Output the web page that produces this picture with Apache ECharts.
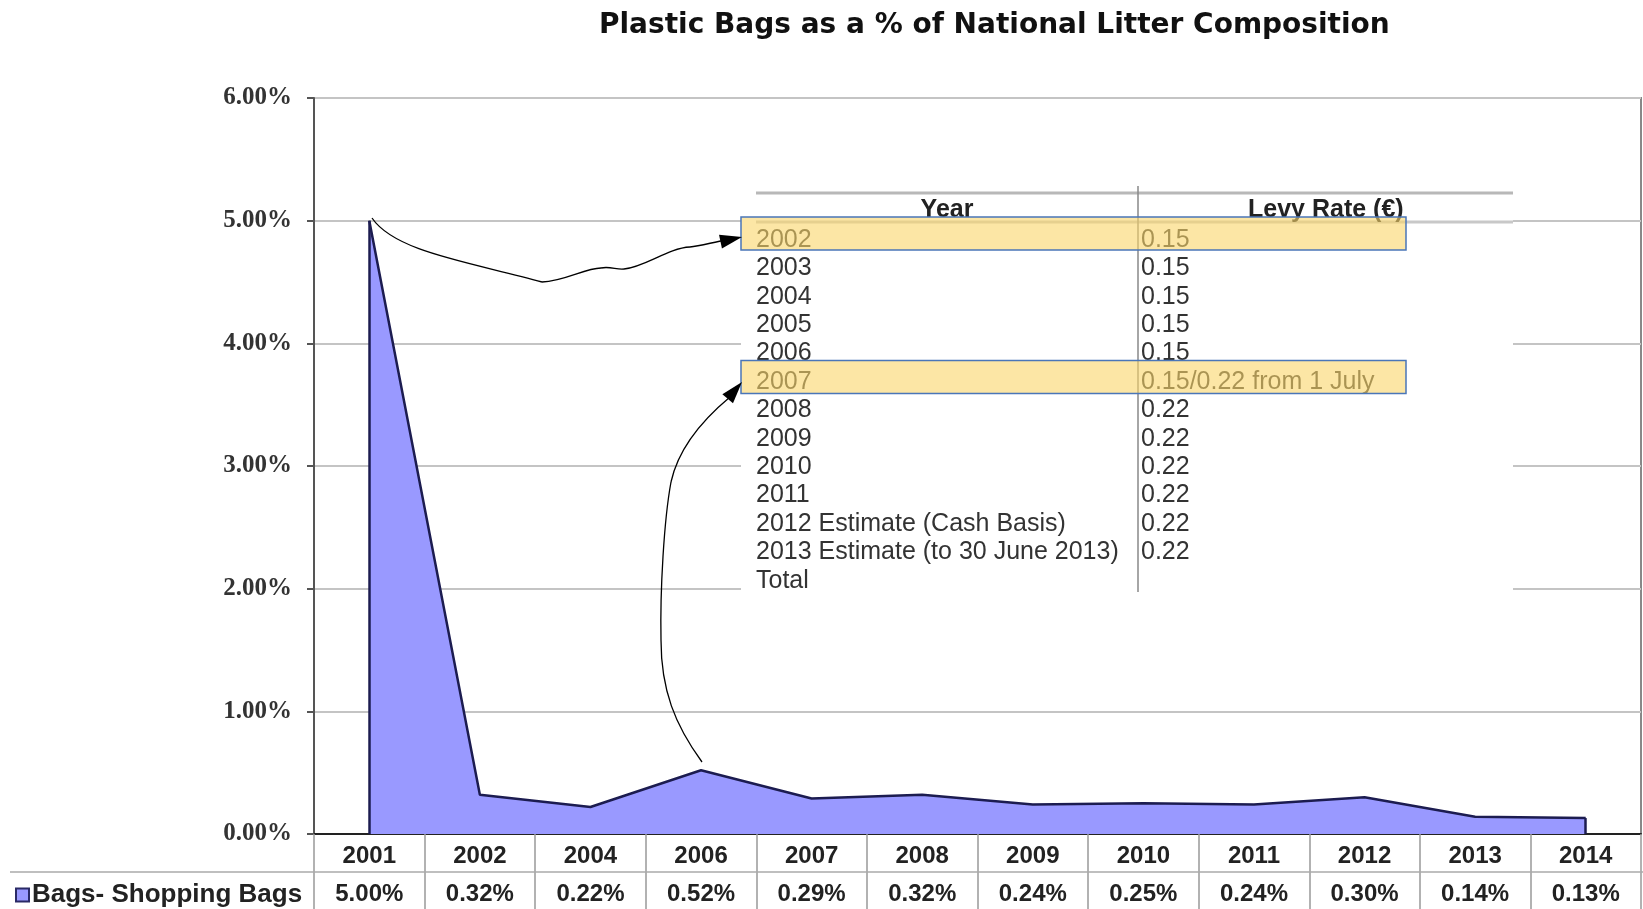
<!DOCTYPE html>
<html>
<head>
<meta charset="utf-8">
<script src="https://cdn.jsdelivr.net/npm/echarts@6/dist/echarts.min.js"></script>
<style>
html,body{margin:0;padding:0;background:#fff;}
#main{width:1643px;height:909px;}
</style>
</head>
<body>
<div id="main"></div>
<script>
// ---- data ----
var categories = ['2001','2002','2004','2006','2007','2008','2009','2010','2011','2012','2013','2014'];
var shoppingBags = [5.00, 0.32, 0.22, 0.52, 0.29, 0.32, 0.24, 0.25, 0.24, 0.30, 0.14, 0.13];
var seriesName = 'Bags- Shopping Bags';
var yTicks = [0, 1, 2, 3, 4, 5, 6];
var levyYears = ['2002','2003','2004','2005','2006','2007','2008','2009','2010','2011','2012 Estimate (Cash Basis)','2013 Estimate (to 30 June 2013)','Total'];
var levyRates = ['0.15','0.15','0.15','0.15','0.15','0.15/0.22 from 1 July','0.22','0.22','0.22','0.22','0.22','0.22',''];
var highlightRows = [0, 5];

var chart = echarts.init(document.getElementById('main'));

var sans = 'Liberation Sans, Arial, sans-serif';

function arrowHead(tip, from, len, w) {
  var dx = tip[0] - from[0], dy = tip[1] - from[1];
  var d = Math.sqrt(dx * dx + dy * dy); dx /= d; dy /= d;
  var bx = tip[0] - dx * len, by = tip[1] - dy * len;
  return [[tip[0], tip[1]], [bx - dy * w, by + dx * w], [bx + dy * w, by - dx * w]];
}

var graphics = [];
// inset table background
graphics.push({type:'rect', z:100, shape:{x:741, y:184, width:772, height:408}, style:{fill:'#ffffff'}, silent:true});
graphics.push({type:'line', z:101, shape:{x1:756, y1:193, x2:1513, y2:193}, style:{stroke:'#b8b8b8', lineWidth:3}});
graphics.push({type:'line', z:101, shape:{x1:756, y1:222, x2:1513, y2:222}, style:{stroke:'#c8c8c8', lineWidth:3}});
graphics.push({type:'line', z:101, shape:{x1:1138, y1:186, x2:1138, y2:592}, style:{stroke:'#888', lineWidth:1.5}});
graphics.push({type:'text', z:102, x:947, y:210, style:{text:'Year', font:'bold 25px ' + sans, fill:'#222', align:'center', verticalAlign:'middle'}});
graphics.push({type:'text', z:102, x:1248, y:210, style:{text:'Levy Rate (€)', font:'bold 25px ' + sans, fill:'#222', align:'left', verticalAlign:'middle'}});
var rowY0 = 240, rowH = 28.4;
levyYears.forEach(function (t, i) {
  graphics.push({type:'text', z:102, x:756, y:rowY0 + i * rowH, style:{text:t, font:'25px ' + sans, fill:'#333', align:'left', verticalAlign:'middle'}});
  graphics.push({type:'text', z:102, x:1141, y:rowY0 + i * rowH, style:{text:levyRates[i], font:'25px ' + sans, fill:'#333', align:'left', verticalAlign:'middle'}});
});
highlightRows.forEach(function (r) {
  var cy = rowY0 + r * rowH;
  graphics.push({type:'rect', z:103, shape:{x:741, y:cy - 23 + (r > 0 ? 1.5 : 0), width:665, height:33}, style:{fill:'rgba(250,214,105,0.6)', stroke:'#4a76b8', lineWidth:1.5}});
});
// arrows
var arrowStyle = {stroke:'#000', lineWidth:1.3, fill:null};
var a1 = [
  [372,218, 542,282, 395,252, 470,262],
  [542,282, 601,268, 565,281, 585,268],
  [601,268, 624,269, 610,266, 617,270],
  [624,269, 690,247, 645,267, 668,248],
  [690,247, 726,240, 700,246, 714,242]
];
var a2 = [
  [702,762, 661,640, 675,725, 661,690],
  [661,640, 671,482, 660,590, 664,520],
  [671,482, 730,397, 678,450, 700,422]
];
a1.concat(a2).forEach(function (s) {
  graphics.push({type:'bezierCurve', z:104, shape:{x1:s[0], y1:s[1], x2:s[2], y2:s[3], cpx1:s[4], cpy1:s[5], cpx2:s[6], cpy2:s[7]}, style:arrowStyle});
});
graphics.push({type:'polygon', z:104, shape:{points:arrowHead([742,237],[700,246],22,7)}, style:{fill:'#000'}});
graphics.push({type:'polygon', z:104, shape:{points:arrowHead([742,382],[724,403],22,7)}, style:{fill:'#000'}});
// data table row separator
graphics.push({type:'line', z:5, shape:{x1:10, y1:872, x2:1643, y2:872}, style:{stroke:'#aaa', lineWidth:1.5}});

var option = {
  backgroundColor: '#ffffff',
  animation: false,
  title: {
    text: 'Plastic Bags as a % of National Litter Composition',
    left: 594, top: 7,
    textStyle: {fontFamily: 'DejaVu Sans, sans-serif', fontWeight: 'bold', fontSize: 28, color: '#111'}
  },
  legend: {
    data: [seriesName],
    left: 10, top: 877,
    icon: 'rect', itemWidth: 13, itemHeight: 13, itemGap: 6,
    itemStyle: {color: '#9999ff', borderColor: '#2a2a66', borderWidth: 2},
    textStyle: {fontFamily: sans, fontWeight: 'bold', fontSize: 26, color: '#222', padding: [0,0,0,-2]}
  },
  grid: {left: 314, right: 2, top: 98, bottom: 75, show: true, borderColor: '#888', borderWidth: 2, backgroundColor: 'transparent'},
  xAxis: {
    type: 'category',
    data: categories,
    boundaryGap: true,
    axisLine: {lineStyle: {color: '#222', width: 2}},
    axisTick: {show: true, interval: 0, length: 75, lineStyle: {color: '#999', width: 1.5}},
    axisLabel: {
      interval: 0, margin: 3,
      formatter: function (v, i) { return '{a|' + v + '}\n{b|' + shoppingBags[i].toFixed(2) + '%}'; },
      rich: {
        a: {fontFamily: sans, fontWeight: 'bold', fontSize: 24, color: '#222', lineHeight: 38},
        b: {fontFamily: sans, fontWeight: 'bold', fontSize: 24, color: '#222', lineHeight: 38}
      }
    },
    splitLine: {show: false}
  },
  yAxis: {
    type: 'value',
    min: yTicks[0], max: yTicks[yTicks.length - 1], interval: 1,
    axisLine: {show: true, lineStyle: {color: '#555', width: 2}},
    axisTick: {show: true, length: 7, lineStyle: {color: '#555', width: 2}},
    axisLabel: {
      margin: 22,
      formatter: function (v) { return v.toFixed(2) + '%'; },
      fontFamily: 'Liberation Serif, Times New Roman, serif', fontWeight: 'bold', fontSize: 25, color: '#333'
    },
    splitLine: {show: true, lineStyle: {color: '#c4c4c4', width: 2}}
  },
  series: [{
    name: seriesName,
    type: 'line',
    data: shoppingBags,
    symbol: 'none',
    z: 3,
    itemStyle: {color: '#9999ff'},
    lineStyle: {color: '#1c1c50', width: 2.5},
    areaStyle: {color: '#9999ff', opacity: 1},
    markLine: {
      silent: true, symbol: 'none', label: {show: false},
      lineStyle: {color: '#1c1c50', width: 2.5, type: 'solid'},
      data: [
        [{coord: [categories[0], 0]}, {coord: [categories[0], shoppingBags[0]]}],
        [{coord: [categories[categories.length - 1], 0]}, {coord: [categories[categories.length - 1], shoppingBags[shoppingBags.length - 1]]}]
      ]
    }
  }],
  graphic: graphics
};
chart.setOption(option);
</script>
</body>
</html>
